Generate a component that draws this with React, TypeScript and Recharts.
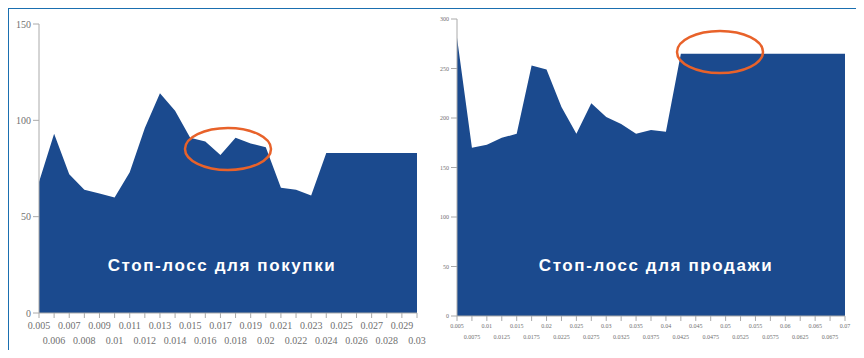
import React from "react";
import { AreaChart, Area, XAxis, YAxis } from "recharts";

// стоп-лосс для покупки
const buyStops = [
  "0.005", "0.006", "0.007", "0.008", "0.009", "0.01", "0.011", "0.012", "0.013",
  "0.014", "0.015", "0.016", "0.017", "0.018", "0.019", "0.02", "0.021", "0.022",
  "0.023", "0.024", "0.025", "0.026", "0.027", "0.028", "0.029", "0.03",
];
const buyValues = [
  68, 93, 72, 64, 62, 60, 73, 96, 114, 105, 91, 89, 82, 91, 88, 86, 65, 64, 61,
  83, 83, 83, 83, 83, 83, 83,
];
const buyYTicks = [0, 50, 100, 150];

// стоп-лосс для продажи
const sellStops = [
  "0.005", "0.0075", "0.01", "0.0125", "0.015", "0.0175", "0.02", "0.0225", "0.025",
  "0.0275", "0.03", "0.0325", "0.035", "0.0375", "0.04", "0.0425", "0.045", "0.0475",
  "0.05", "0.0525", "0.055", "0.0575", "0.06", "0.0625", "0.065", "0.0675", "0.07",
];
const sellValues = [
  281, 170, 173, 180, 184, 253, 249, 211, 184, 215, 201, 194, 184, 188, 186, 265,
  265, 265, 265, 265, 265, 265, 265, 265, 265, 265, 265,
];
const sellYTicks = [0, 50, 100, 150, 200, 250, 300];

const fill = "#1b4a8e";
const grey = "#707070";

const TwoRowTick = (props: any) => {
  const { x, y, payload, index, fontSize, gap } = props;
  const row = index % 2;
  return (
    <text
      x={x}
      y={y}
      dy={fontSize * 0.9 + row * gap}
      textAnchor="middle"
      fill={grey}
      fontSize={fontSize}
      fontFamily="Liberation Serif, serif"
    >
      {payload.value}
    </text>
  );
};

const label: React.CSSProperties = {
  position: "absolute",
  top: 256,
  color: "#fff",
  fontFamily: "Liberation Sans, Arial, sans-serif",
  fontWeight: "bold",
  fontSize: 17,
  letterSpacing: 1.6,
  whiteSpace: "nowrap",
  transform: "translateX(-50%)",
};

export default function App() {
  const buyData = buyStops.map((s, i) => ({ stop: s, value: buyValues[i] }));
  const sellData = sellStops.map((s, i) => ({ stop: s, value: sellValues[i] }));

  return (
    <div style={{ position: "relative", width: 864, height: 358, background: "#fff", margin: -8 }}>
      <div
        style={{
          position: "absolute",
          left: 7,
          top: 7,
          width: 848,
          height: 342,
          border: "2px solid #1a6fb0",
          background: "#fff",
        }}
      />
      <div style={{ position: "absolute", left: 0, top: 0 }}>
        <AreaChart width={432} height={358} data={buyData} margin={{ top: 24, right: 15, bottom: 0, left: 0 }}>
          <XAxis
            dataKey="stop"
            interval={0}
            height={45}
            tick={<TwoRowTick fontSize={10} gap={15} />}
            tickSize={5}
            stroke="#aaa"
          />
          <YAxis
            width={39}
            domain={[0, 150]}
            ticks={buyYTicks}
            tickSize={6}
            stroke="#aaa"
            tick={{ fill: grey, fontSize: 10, fontFamily: "Liberation Serif, serif" }}
          />
          <Area
            type="linear"
            dataKey="value"
            fill={fill}
            fillOpacity={1}
            stroke="none"
            isAnimationActive={false}
          />
        </AreaChart>
      </div>
      <div style={{ position: "absolute", left: 432, top: 0 }}>
        <AreaChart width={432} height={358} data={sellData} margin={{ top: 19, right: 19, bottom: 0, left: 0 }}>
          <XAxis
            dataKey="stop"
            interval={0}
            height={42}
            tick={<TwoRowTick fontSize={6} gap={11} />}
            tickSize={5}
            stroke="#aaa"
          />
          <YAxis
            width={25}
            domain={[0, 300]}
            ticks={sellYTicks}
            tickSize={6}
            stroke="#aaa"
            tick={{ fill: grey, fontSize: 6, fontFamily: "Liberation Serif, serif" }}
          />
          <Area
            type="linear"
            dataKey="value"
            fill={fill}
            fillOpacity={1}
            stroke="none"
            isAnimationActive={false}
          />
        </AreaChart>
      </div>
      <svg width={864} height={358} style={{ position: "absolute", left: 0, top: 0, pointerEvents: "none" }}>
        <ellipse cx={228} cy={149} rx={43} ry={21} fill="none" stroke="#e8622a" strokeWidth={2.5} />
        <ellipse cx={720} cy={52} rx={43} ry={21} fill="none" stroke="#e8622a" strokeWidth={2.5} />
      </svg>
      <div style={{ ...label, left: 222 }}>Стоп-лосс для покупки</div>
      <div style={{ ...label, left: 656 }}>Стоп-лосс для продажи</div>
    </div>
  );
}
